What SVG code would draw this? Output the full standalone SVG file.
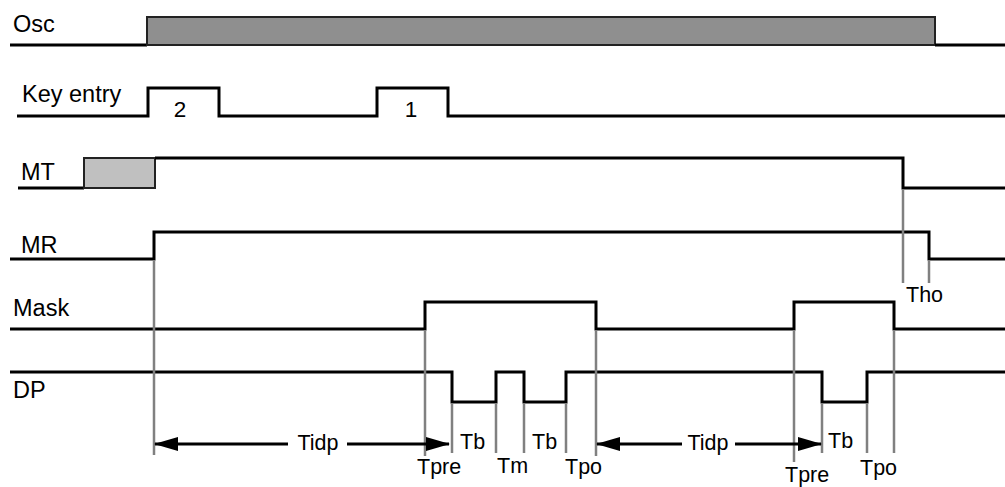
<svg xmlns="http://www.w3.org/2000/svg" width="1005" height="487" viewBox="0 0 1005 487">
<style>
.sig{fill:none;stroke:#000;stroke-width:3;stroke-linejoin:miter}
.guide{fill:none;stroke:#808080;stroke-width:2.5}
.lbl{font-family:"Liberation Sans",Arial,sans-serif;font-size:23.5px;fill:#000}
.num{font-family:"Liberation Sans",Arial,sans-serif;font-size:22.5px;fill:#000}
.ann{font-family:"Liberation Sans",Arial,sans-serif;font-size:21.5px;fill:#000}
.arr{fill:none;stroke:#000;stroke-width:3}
</style>
<defs>
<marker id="ah" markerUnits="userSpaceOnUse" markerWidth="24" markerHeight="14" refX="23" refY="7" orient="auto-start-reverse">
<path d="M0,0 L24,7 L0,14 z" fill="#000"/>
</marker>
</defs>
<rect width="1005" height="487" fill="#fff"/>

<g id="osc">
<path class="sig" d="M10,45 H147"/>
<rect x="147" y="17" width="788" height="28" fill="#8f8f8f" stroke="#222" stroke-width="2"/>
<path class="sig" d="M935,45 H1005"/>
<text class="lbl" x="13" y="32">Osc</text>
</g>

<g id="key-entry">
<path class="sig" d="M17,116 H148 V88 H219 V116 H377 V88 H448 V116 H1005"/>
<text class="lbl" x="22" y="102">Key entry</text>
<text class="num" x="180" y="117" text-anchor="middle">2</text>
<text class="num" x="411" y="117" text-anchor="middle">1</text>
</g>

<g id="mt">
<path class="sig" d="M18,188 H84"/>
<rect x="84" y="158" width="71" height="30" fill="#c0c0c0" stroke="#222" stroke-width="2"/>
<path class="sig" d="M155,158 H903 V188 H1005"/>
<text class="lbl" x="21" y="180">MT</text>
</g>

<g id="mr">
<path class="sig" d="M10,259 H154 V232 H929 V259 H1005"/>
<text class="lbl" x="21" y="253">MR</text>
</g>

<g id="mask">
<path class="sig" d="M10,329 H425 V302 H596 V329 H794 V302 H894 V329 H1005"/>
<text class="lbl" x="13" y="316">Mask</text>
</g>

<g id="dp">
<path class="sig" d="M10,372 H452 V402 H496 V372 H524 V402 H566 V372 H822 V402 H867 V372 H1005"/>
<text class="lbl" x="13" y="398">DP</text>
</g>

<g id="connectors">
<path class="guide" d="M154,260 V455 M425,330 V456 M452,403 V453 M496,403 V453 M524,403 V453 M566,403 V453 M596,330 V456 M794,330 V462 M822,403 V453 M867,403 V453 M894,330 V453 M903,189 V283 M929,260 V283"/>
<path class="arr" d="M288,444 H155" marker-end="url(#ah)"/>
<path class="arr" d="M347,444 H449" marker-end="url(#ah)"/>
<path class="arr" d="M682,444 H597" marker-end="url(#ah)"/>
<path class="arr" d="M735,444 H821" marker-end="url(#ah)"/>
</g>

<g id="labels">
<text class="ann" x="318" y="450" text-anchor="middle">Tidp</text>
<text class="ann" x="708" y="450" text-anchor="middle">Tidp</text>
<text class="ann" x="460" y="449">Tb</text>
<text class="ann" x="532" y="449">Tb</text>
<text class="ann" x="828" y="448">Tb</text>
<text class="ann" x="497" y="473">Tm</text>
<text class="ann" x="417" y="474">Tpre</text>
<text class="ann" x="565" y="474">Tpo</text>
<text class="ann" x="785" y="482">Tpre</text>
<text class="ann" x="860" y="475">Tpo</text>
<text class="ann" x="906" y="302">Tho</text>
</g>
</svg>
